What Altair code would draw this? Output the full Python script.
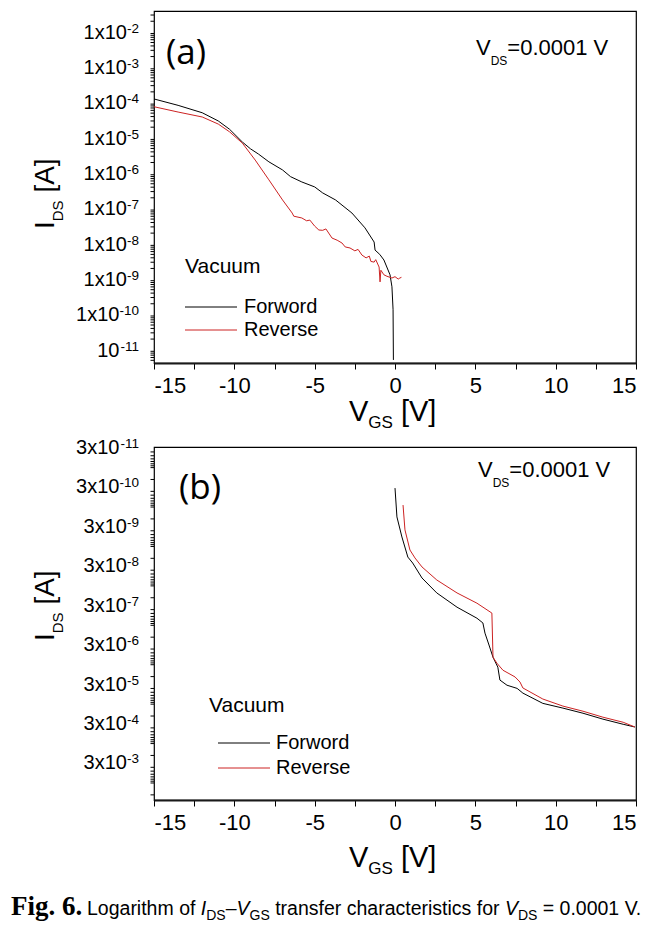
import altair as alt
import pandas as pd

# ---------------- data ----------------
# panel (a)
a_fwd_v = [-15, -13.5, -12, -11, -10.3, -9.5, -9, -8.5, -7.85, -7, -6.5, -5.8, -5, -4.5,
           -3.7, -2.68, -1.87, -1.3, -1.24, -0.95, -0.69, -0.31, -0.19, -0.12, -0.1]
a_fwd_i = [1.26e-4, 8.3e-5, 5.13e-5, 3.0e-5, 1.75e-5, 7.6e-6, 4.90e-6, 3.47e-6, 2.09e-6,
           1.23e-6, 7.94e-7, 5.62e-7, 4.07e-7, 2.75e-7, 1.74e-7, 7.41e-8, 2.82e-8, 1.12e-8,
           6.61e-9, 5.0e-9, 3.47e-9, 1.32e-9, 6.03e-10, 1.35e-10, 5.13e-12]
a_rev_v = [-15, -13.5, -12, -11, -10.3, -9.5, -8.7, -7.85, -7.0, -6.4, -6.3, -5.8, -5.5, -5.3,
           -5.0, -4.74, -4.5, -4.3, -3.92, -3.6, -3.3, -3.1, -2.8, -2.5, -2.3, -2.06, -1.8,
           -1.6, -1.5, -1.3, -1.2, -0.99, -0.93, -0.88, -0.69, -0.5, -0.19, 0.0, 0.2, 0.3, 0.4]
a_rev_i = [7.59e-5, 5.37e-5, 3.89e-5, 2.45e-5, 1.48e-5, 7.08e-6, 2.34e-6, 6.46e-7, 1.74e-7,
           7.41e-8, 6.03e-8, 5.37e-8, 4.47e-8, 4.68e-8, 3.16e-8, 2.45e-8, 2.40e-8, 2.63e-8,
           1.45e-8, 1.26e-8, 1.05e-8, 8.13e-9, 7.59e-9, 6.31e-9, 6.92e-9, 4.79e-9, 3.98e-9,
           4.47e-9, 3.16e-9, 3.02e-9, 3.55e-9, 2.19e-9, 8.32e-10, 1.78e-9, 1.32e-9, 1.20e-9,
           1.07e-9, 1.17e-9, 1.00e-9, 1.07e-9, 1.12e-9]
# panel (b)
b_fwd_v = [0.0, 0.12, 0.43, 0.8, 1.1, 1.68, 2.6, 3.86, 5.1, 5.47, 5.6, 5.85, 6.1, 6.4, 6.53,
           6.97, 7.6, 7.96, 9.2, 10.45, 11.7, 12.94, 14.2, 14.93]
b_fwd_i = [3.31e-10, 1.78e-9, 5.75e-9, 1.86e-8, 2.63e-8, 6.31e-8, 1.51e-7, 3.47e-7, 6.61e-7,
           8.71e-7, 1.58e-6, 3.16e-6, 6.46e-6, 1.15e-5, 2.45e-5, 3.31e-5, 3.98e-5, 5.25e-5,
           9.55e-5, 1.26e-4, 1.70e-4, 2.40e-4, 3.24e-4, 3.80e-4]
b_rev_v = [0.5, 0.62, 0.93, 1.24, 1.68, 2.6, 3.86, 5.1, 6.03, 6.1, 6.34, 6.72, 7.47, 7.78,
           7.96, 9.2, 10.45, 11.7, 12.94, 14.2, 14.93]
b_rev_i = [8.91e-10, 3.80e-9, 1.23e-8, 1.95e-8, 3.31e-8, 7.08e-8, 1.51e-7, 2.75e-7, 4.90e-7,
           6.46e-6, 9.12e-6, 1.38e-5, 2.04e-5, 2.75e-5, 3.89e-5, 7.41e-5, 1.12e-4, 1.51e-4,
           2.14e-4, 2.88e-4, 3.80e-4]

series = ["Forword", "Reverse"]
colors = ["#000000", "#cc2222"]

x_ticks = [-15, -12.5, -10, -7.5, -5, -2.5, 0, 2.5, 5, 7.5, 10, 12.5, 15]
a_major = [1e-2, 1e-3, 1e-4, 1e-5, 1e-6, 1e-7, 1e-8, 1e-9, 1e-10, 1e-11]
a_label_base = ["1x10"] * 9 + ["10"]
a_label_exp = ["-2", "-3", "-4", "-5", "-6", "-7", "-8", "-9", "-10", "-11"]
b_major = [3e-11, 3e-10, 3e-9, 3e-8, 3e-7, 3e-6, 3e-5, 3e-4, 3e-3]
b_label_base = ["3x10"] * 9
b_label_exp = ["-11", "-10", "-9", "-8", "-7", "-6", "-5", "-4", "-3"]
a_domain = [4.2e-12, 3.9e-2]
b_domain = [3e-11, 2.7e-2]

# ---------------- helpers ----------------
SANS = "Liberation Sans"
W = {' ': 278, 'a': 556, 'b': 556, 'c': 500, 'd': 556, 'e': 556, 'f': 278, 'g': 556, 'h': 556,
     'i': 222, 'k': 500, 'l': 222, 'm': 833, 'n': 556, 'o': 556, 'p': 556, 'r': 333, 's': 500,
     't': 278, 'u': 556, 'v': 500, 'w': 722, 'x': 500, 'y': 500, 'A': 667, 'D': 722, 'F': 611,
     'G': 778, 'I': 278, 'L': 556, 'S': 667, 'V': 667, '[': 278, ']': 278, '=': 584, '.': 278,
     '–': 556, '-': 333}
BASE_FS, EXP_FS, LAB_GAP = 20, 13.5, 15


def tw(s, size):
    return sum(W.get(c, 556) for c in s) * size / 1000.0


def txt(s, x, y, size, font=SANS, style="normal", weight="normal", angle=0):
    return alt.Chart(pd.DataFrame({"t": [s]})).mark_text(
        align="left", baseline="alphabetic", fontSize=size, font=font,
        fontStyle=style, fontWeight=weight, angle=angle, color="black"
    ).encode(x=alt.value(x), y=alt.value(y), text="t:N")


def run(pieces, x0, y0, vertical=False):
    out = []
    pos = y0 if vertical else x0
    for s, size, shift, style in pieces:
        lead = len(s) - len(s.lstrip(" "))
        core = s.strip(" ")
        wl = lead * W[" "] * size / 1000.0
        if vertical:
            out.append(txt(core, x0 + shift, pos - wl, size, style=style, angle=270))
            pos -= tw(s, size)
        else:
            out.append(txt(core, pos + wl, y0 + shift, size, style=style))
            pos += tw(s, size)
    return out


def frame(v, i, name):
    return pd.DataFrame({"V": v, "I": i, "sweep": name, "idx": range(len(v))})


x_axis = alt.Axis(
    values=x_ticks, title=None, grid=False, labelOverlap=False,
    labelExpr="datum.value % 5 == 0 ? toString(datum.value) : ''",
    tickSize=6, labelFontSize=22, labelPadding=6, labelFont=SANS, labelColor="black",
)


def y_labels(major, base, exp, yscale):
    df = pd.DataFrame({"I": major, "base": base, "exp": exp,
                       "bx": [-LAB_GAP - tw(e, EXP_FS) for e in exp]})
    b = alt.Chart(df).mark_text(align="right", baseline="alphabetic", fontSize=BASE_FS,
                                font=SANS, color="black", dy=7).encode(
        x=alt.X("bx:Q", scale=None), y=alt.Y("I:Q", scale=yscale, axis=None), text="base:N")
    e = alt.Chart(df).mark_text(align="right", baseline="alphabetic", fontSize=EXP_FS,
                                font=SANS, color="black", dy=1).encode(
        x=alt.value(-LAB_GAP), y=alt.Y("I:Q", scale=yscale, axis=None), text="exp:N")
    return [b, e]


def minor_ticks(vals, yscale):
    return alt.Chart(pd.DataFrame({"I": vals})).mark_rule(color="black", strokeWidth=1).encode(
        y=alt.Y("I:Q", scale=yscale, axis=None), x=alt.value(0), x2=alt.value(-3.5))


def panel(df, domain, reverse, major, base, exp, minor, leg, h, extra):
    yscale = alt.Scale(type="log", domain=domain, reverse=reverse, nice=False)
    line = alt.Chart(df).mark_line(strokeWidth=1, clip=True).encode(
        x=alt.X("V:Q", scale=alt.Scale(domain=[-15, 15], nice=False, zero=False), axis=x_axis),
        y=alt.Y("I:Q", scale=yscale,
                axis=alt.Axis(values=major, title=None, grid=False, labels=False, tickSize=7)),
        color=alt.Color("sweep:N", scale=alt.Scale(domain=series, range=colors),
                        legend=alt.Legend(**leg)),
        order="idx:Q",
    )
    layers = [line, minor_ticks(minor, yscale)] + y_labels(major, base, exp, yscale) + extra
    return alt.layer(*layers).properties(width=482, height=h)


def legend_props(lx, ly, sym_off, lab_off, title_pad, row_pad):
    return dict(
        title="Vacuum", orient="none", legendX=lx, legendY=ly, padding=0,
        symbolType="M-5.2,0L5.2,0", symbolSize=100, symbolStrokeWidth=1,
        symbolOffset=sym_off, labelOffset=lab_off, labelFontSize=20, labelFont=SANS,
        labelColor="black", titleFont=SANS, titleFontSize=21, titleFontWeight="normal",
        titleColor="black", titlePadding=title_pad, rowPadding=row_pad,
    )


a_minor = [k * 10.0 ** n for n in range(-12, -1) for k in range(2, 10)
           if a_domain[0] <= k * 10.0 ** n <= a_domain[1]]
b_minor = [k * 10.0 ** n for n in range(-11, -1) for k in (1, 2, 4, 5, 6, 7, 8, 9)
           if b_domain[0] <= k * 10.0 ** n <= b_domain[1]]

HA, HB = 352, 353

vds = lambda x, y: run([("V", 22, 0, "normal"), ("DS", 12, 10, "normal"),
                        ("=0.0001 V", 22, 0, "normal")], x, y)
vgs = lambda y: run([("V", 29, 0, "normal"), ("GS", 17, 7, "normal"),
                     (" [V]", 29, 0, "normal")], 195, y)
ids = lambda y: run([("I", 28, 0, "normal"), ("DS", 15, 9, "normal"),
                     (" [A]", 28, 0, "normal")], -100, y, vertical=True)

extra_a = ([txt("(a)", 12, 53, 35, font="Open Sans")] + vds(322, 44) + vgs(HA + 58) + ids(218))

caption = ([txt("Fig. 6.", -143, 468, 27, font="Liberation Serif", weight="bold")] +
           run([("Logarithm of ", 19.5, 0, "normal"), ("I", 19.5, 0, "italic"),
                ("DS", 14, 4.5, "normal"), ("–", 19.5, 0, "normal"),
                ("V", 19.5, 0, "italic"), ("GS", 14, 4.5, "normal"),
                (" transfer characteristics for ", 19.5, 0, "normal"),
                ("V", 19.5, 0, "italic"), ("DS", 14, 4.5, "normal"),
                (" = 0.0001 V.", 19.5, 0, "normal")], -67, 468))

extra_b = ([txt("(b)", 25, 52, 35, font="Open Sans")] + vds(324, 30) + vgs(HB + 67) +
           ids(194) + caption)

df_a = pd.concat([frame(a_fwd_v, a_fwd_i, "Forword"), frame(a_rev_v, a_rev_i, "Reverse")])
df_b = pd.concat([frame(b_fwd_v, b_fwd_i, "Forword"), frame(b_rev_v, b_rev_i, "Reverse")])

pa = panel(df_a, a_domain, False, a_major, a_label_base, a_label_exp, a_minor,
           legend_props(31, 245, 16, 23, 20, 3), HA, extra_a)
pb = panel(df_b, b_domain, True, b_major, b_label_base, b_label_exp, b_minor,
           legend_props(55, 248, 25, 22, 17, 5), HB, extra_b)

chart = alt.vconcat(pa, pb, spacing=84, bounds="flush").resolve_legend(
    color="independent"
).resolve_scale(color="independent").configure_view(
    stroke="black", strokeWidth=1.2
).configure_axis(
    domainColor="#1a1a1a", domainWidth=2.2, tickColor="black", tickWidth=1
).properties(
    padding={"left": 2, "top": 2, "right": 0, "bottom": 0}, background="white"
)

chart.save("out.html", embed_options={"renderer": "svg", "actions": False})
